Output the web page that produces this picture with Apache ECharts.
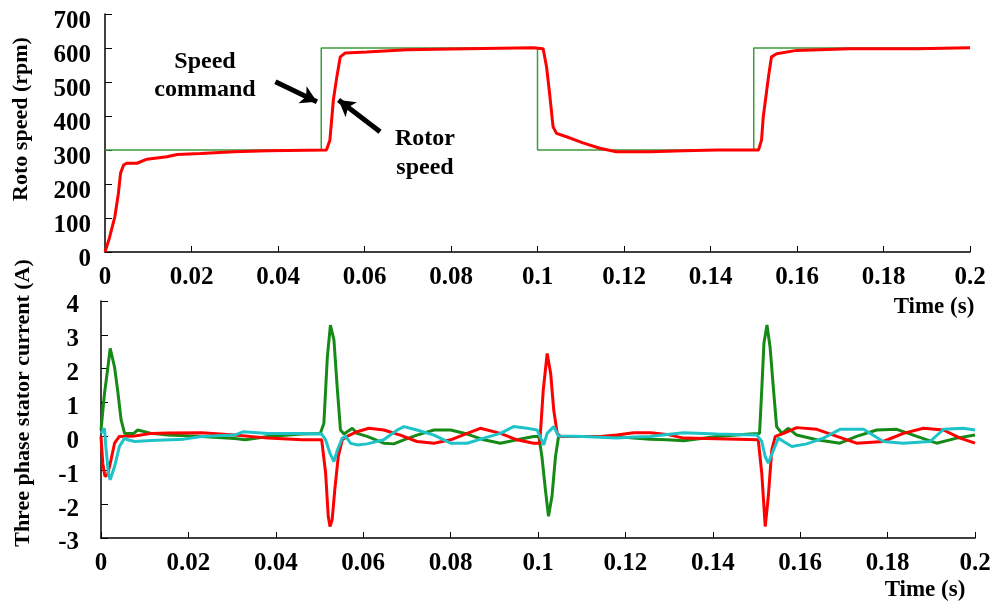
<!DOCTYPE html>
<html>
<head>
<meta charset="utf-8">
<script src="https://cdn.jsdelivr.net/npm/echarts@6/dist/echarts.min.js"></script>
<style>html,body{margin:0;padding:0;background:#fff;}#c{width:999px;height:606px;}</style>
</head>
<body>
<div id="c"></div>
<script>
// ---- Top panel: speed ----
var cmdT = [0, 0.05, 0.05, 0.1, 0.1, 0.15, 0.15, 0.2];
var cmdV = [300, 300, 600, 600, 300, 300, 600, 600];
var rotorT = [0, 0.0009, 0.0023, 0.0031, 0.0036, 0.0043, 0.005, 0.0074, 0.0097, 0.0143, 0.0167, 0.0221, 0.0298, 0.0376, 0.0512, 0.052, 0.0528, 0.0536, 0.0544, 0.0555, 0.0605, 0.0698, 0.0836, 0.099, 0.1013, 0.1021, 0.1028, 0.1036, 0.1044, 0.1067, 0.1105, 0.1144, 0.1182, 0.1221, 0.1261, 0.1338, 0.1415, 0.1511, 0.1518, 0.1522, 0.1528, 0.1534, 0.1541, 0.1553, 0.1599, 0.1722, 0.1875, 0.2];
var rotorV = [0, 36, 105, 173, 232, 256, 261, 261, 273, 280, 287, 290, 295, 298, 300, 329, 447, 515, 574, 585, 588, 595, 598, 601, 598, 544, 466, 368, 349, 339, 321, 305, 295, 295, 295, 298, 300, 300, 329, 398, 456, 515, 574, 583, 593, 598, 598, 601];
var speedTicks = [0, 100, 200, 300, 400, 500, 600, 700];

// ---- Bottom panel: three-phase stator current ----
var redT = [0, 0.0004, 0.0009, 0.0015, 0.0023, 0.0031, 0.0042, 0.0077, 0.0115, 0.0153, 0.023, 0.0306, 0.0382, 0.046, 0.0505, 0.0514, 0.052, 0.0524, 0.0529, 0.0535, 0.0543, 0.0552, 0.0563, 0.0586, 0.0613, 0.0647, 0.0685, 0.0723, 0.0762, 0.08, 0.0838, 0.0868, 0.0914, 0.0952, 0.099, 0.1004, 0.1012, 0.1021, 0.1029, 0.1036, 0.1044, 0.1051, 0.1104, 0.1143, 0.118, 0.1219, 0.1257, 0.1295, 0.1333, 0.1409, 0.1504, 0.1512, 0.152, 0.1527, 0.1535, 0.1543, 0.1562, 0.1592, 0.1638, 0.1684, 0.1729, 0.179, 0.1836, 0.1882, 0.1928, 0.1966, 0.2];
var redV = [0, -0.79, -1.18, -1.13, -0.69, -0.2, 0, 0.01, 0.09, 0.1, 0.11, 0.04, -0.05, -0.1, -0.1, -1.08, -2.36, -2.66, -2.46, -1.57, -0.59, -0.1, 0, 0.14, 0.24, 0.19, 0.04, -0.15, -0.2, -0.1, 0.09, 0.24, 0.09, -0.1, -0.2, -0.2, 1.37, 2.45, 1.86, 0.78, 0.09, 0, 0, 0, 0.04, 0.11, 0.11, 0.06, -0.05, -0.07, -0.1, -1.08, -2.66, -1.77, -0.4, 0, 0.09, 0.26, 0.21, 0, -0.2, -0.15, 0.09, 0.24, 0.19, -0.05, -0.2];
var greenT = [0, 0.0008, 0.0015, 0.0021, 0.0031, 0.0038, 0.0046, 0.0054, 0.0075, 0.0084, 0.0115, 0.0153, 0.023, 0.0306, 0.033, 0.0382, 0.046, 0.0502, 0.051, 0.0518, 0.0525, 0.0533, 0.0541, 0.0548, 0.0556, 0.0575, 0.0586, 0.0609, 0.0647, 0.067, 0.0693, 0.0723, 0.0762, 0.08, 0.0838, 0.0876, 0.0914, 0.0952, 0.099, 0.1002, 0.1009, 0.1017, 0.1024, 0.1032, 0.104, 0.1047, 0.1104, 0.118, 0.1219, 0.1257, 0.1295, 0.1333, 0.1409, 0.1485, 0.1507, 0.1512, 0.1517, 0.1524, 0.1531, 0.1539, 0.1546, 0.1558, 0.1573, 0.1592, 0.1638, 0.1691, 0.1729, 0.1775, 0.1821, 0.1867, 0.1912, 0.1958, 0.2];
var greenV = [0.19, 1.27, 1.96, 2.6, 2.05, 1.37, 0.49, 0.09, 0.09, 0.19, 0.09, 0.04, 0, -0.06, -0.1, 0, 0.07, 0.09, 0.39, 2.36, 3.29, 2.85, 1.37, 0.19, 0.07, 0.24, 0.09, 0, -0.2, -0.22, -0.1, 0.04, 0.19, 0.19, 0.07, -0.1, -0.2, -0.1, 0, 0, -0.6, -1.58, -2.36, -1.77, -0.6, 0, 0, 0, -0.05, -0.08, -0.1, -0.13, 0, 0.07, 0.09, 1.37, 2.75, 3.29, 2.65, 1.37, 0.29, 0.09, 0.24, 0.04, -0.1, -0.2, 0, 0.19, 0.21, 0, -0.2, -0.05, 0.04];
var cyanT = [0, 0.0008, 0.0011, 0.0017, 0.0021, 0.0031, 0.0042, 0.0054, 0.0061, 0.0077, 0.0115, 0.019, 0.023, 0.0306, 0.0326, 0.0382, 0.046, 0.0505, 0.0514, 0.0524, 0.0533, 0.0541, 0.0552, 0.056, 0.0571, 0.0586, 0.0609, 0.0647, 0.0678, 0.0693, 0.0723, 0.0762, 0.08, 0.0838, 0.0876, 0.0914, 0.0944, 0.0975, 0.0998, 0.1013, 0.1021, 0.1036, 0.1047, 0.1104, 0.118, 0.1219, 0.1257, 0.1295, 0.1333, 0.1409, 0.1501, 0.1512, 0.152, 0.1527, 0.1539, 0.155, 0.1562, 0.1581, 0.1615, 0.1653, 0.1691, 0.1745, 0.179, 0.1836, 0.1897, 0.1928, 0.1973, 0.2];
var cyanV = [0.09, 0.24, -0.3, -1.09, -1.28, -0.89, -0.3, -0.05, -0.1, -0.15, -0.12, -0.08, 0, 0.04, 0.14, 0.09, 0.09, 0.07, -0.1, -0.5, -0.74, -0.4, -0.05, 0, -0.2, -0.25, -0.22, -0.1, 0.19, 0.29, 0.19, 0.04, -0.2, -0.2, -0.05, 0.09, 0.29, 0.24, 0.19, -0.25, 0.09, 0.29, 0.01, 0, -0.05, -0.02, 0, 0.06, 0.11, 0.07, 0.04, -0.15, -0.6, -0.79, -0.4, -0.05, -0.15, -0.3, -0.22, -0.05, 0.21, 0.21, -0.15, -0.2, -0.15, 0.21, 0.24, 0.19];
var currentTicks = [-3, -2, -1, 0, 1, 2, 3, 4];
var timeTicks = [0, 0.02, 0.04, 0.06, 0.08, 0.1, 0.12, 0.14, 0.16, 0.18, 0.2];

// Annotation arrows (data coordinates, top panel)
var arrowCmd = [[0.0394, 501], [0.0490, 442]];
var arrowRotor = [[0.0636, 354], [0.0540, 447]];

function zip(a, b) { return a.map(function (v, i) { return [v, b[i]]; }); }

var FONT = 'Liberation Serif, Times New Roman, serif';
var chart = echarts.init(document.getElementById('c'), null, { renderer: 'canvas' });

function xAxisCfg(gi) {
  return {
    type: 'value', gridIndex: gi, min: timeTicks[0], max: timeTicks[timeTicks.length - 1], interval: 0.02,
    axisLine: { show: true, onZero: false, lineStyle: { color: '#000', width: 1.5 } },
    axisTick: { show: true, inside: true, length: 6, lineStyle: { color: '#000', width: 1 } },
    axisLabel: { color: '#000', fontFamily: FONT, fontWeight: 'bold', fontSize: 25, margin: 13,
      formatter: function (v) { return String(+v.toFixed(2)); } },
    splitLine: { show: false }
  };
}
function yAxisCfg(gi, ticks, margin, shift) {
  return {
    type: 'value', gridIndex: gi, min: ticks[0], max: ticks[ticks.length - 1], interval: ticks[1] - ticks[0],
    axisLine: { show: true, onZero: false, lineStyle: { color: '#000', width: 1.5 } },
    axisTick: { show: true, inside: true, length: 7, lineStyle: { color: '#000', width: 1 } },
    axisLabel: { color: '#000', fontFamily: FONT, fontWeight: 'bold', fontSize: 25, margin: margin,
      verticalAlign: 'top', lineHeight: shift * 2 },
    splitLine: { show: false }
  };
}

var arrowStyle = {
  silent: true, symbol: ['none', 'arrow'], symbolSize: [14, 16], animation: false,
  lineStyle: { color: '#000', width: 5, type: 'solid' }, label: { show: false },
  data: [
    [{ coord: arrowCmd[0] }, { coord: arrowCmd[1] }],
    [{ coord: arrowRotor[0] }, { coord: arrowRotor[1] }]
  ]
};

var option = {
  animation: false,
  backgroundColor: '#fff',
  grid: [
    { left: 105, right: 29, top: 14, height: 238 },
    { left: 101, right: 24, top: 301, height: 237 }
  ],
  xAxis: [xAxisCfg(0), xAxisCfg(1)],
  yAxis: [yAxisCfg(0, speedTicks, 14, 8), yAxisCfg(1, currentTicks, 22, 5)],
  series: [
    { type: 'line', xAxisIndex: 0, yAxisIndex: 0, data: zip(cmdT, cmdV), showSymbol: false,
      lineStyle: { color: '#3d9a3d', width: 1.5 }, z: 2 },
    { type: 'line', xAxisIndex: 0, yAxisIndex: 0, data: zip(rotorT, rotorV), showSymbol: false,
      lineStyle: { color: '#ff0000', width: 3 }, z: 3, markLine: arrowStyle },
    { type: 'line', xAxisIndex: 1, yAxisIndex: 1, data: zip(greenT, greenV), showSymbol: false,
      lineStyle: { color: '#168a16', width: 3 }, z: 2 },
    { type: 'line', xAxisIndex: 1, yAxisIndex: 1, data: zip(redT, redV), showSymbol: false,
      lineStyle: { color: '#ff0000', width: 3 }, z: 3 },
    { type: 'line', xAxisIndex: 1, yAxisIndex: 1, data: zip(cyanT, cyanV), showSymbol: false,
      lineStyle: { color: '#1ec3c8', width: 3 }, z: 4 }
  ],
  graphic: [
    { type: 'text', x: 21, y: 119, rotation: Math.PI / 2, style: { text: 'Roto speed (rpm)', font: 'bold 22px ' + FONT, fill: '#000', align: 'center', verticalAlign: 'middle' } },
    { type: 'text', x: 23, y: 403, rotation: Math.PI / 2, style: { text: 'Three phase stator current (A)', font: 'bold 22px ' + FONT, fill: '#000', align: 'center', verticalAlign: 'middle' } },
    { type: 'text', x: 934, y: 307, style: { text: 'Time (s)', font: 'bold 23px ' + FONT, fill: '#000', align: 'center', verticalAlign: 'middle' } },
    { type: 'text', x: 925, y: 590, style: { text: 'Time (s)', font: 'bold 23px ' + FONT, fill: '#000', align: 'center', verticalAlign: 'middle' } },
    { type: 'text', x: 205, y: 62, style: { text: 'Speed', font: 'bold 24px ' + FONT, fill: '#000', align: 'center', verticalAlign: 'middle' } },
    { type: 'text', x: 205, y: 90, style: { text: 'command', font: 'bold 24px ' + FONT, fill: '#000', align: 'center', verticalAlign: 'middle' } },
    { type: 'text', x: 425, y: 139, style: { text: 'Rotor', font: 'bold 24px ' + FONT, fill: '#000', align: 'center', verticalAlign: 'middle' } },
    { type: 'text', x: 425, y: 168, style: { text: 'speed', font: 'bold 24px ' + FONT, fill: '#000', align: 'center', verticalAlign: 'middle' } }
  ]
};
chart.setOption(option);
</script>
</body>
</html>
